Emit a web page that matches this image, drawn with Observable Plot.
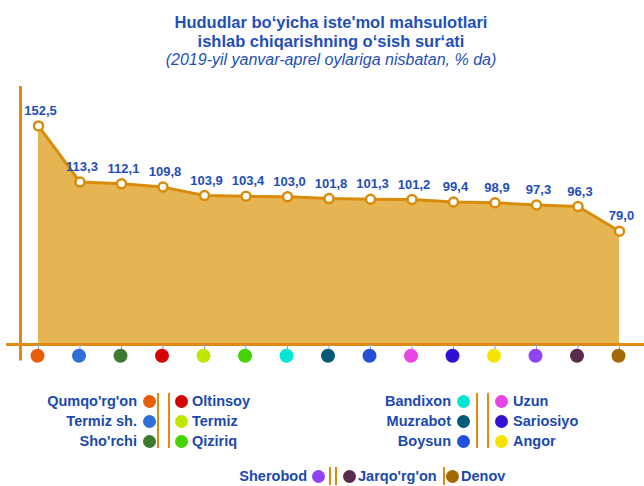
<!DOCTYPE html>
<html>
<head>
<meta charset="utf-8">
<script src="https://cdn.jsdelivr.net/npm/d3@7"></script>
<script src="https://cdn.jsdelivr.net/npm/@observablehq/plot@0.6"></script>
<style>
  html, body { margin: 0; padding: 0; background: #fff; }
  body { width: 644px; height: 486px; position: relative; overflow: hidden; font-family: "Liberation Sans", Arial, sans-serif; }
  .title { position: absolute; left: 0; width: 662px; text-align: center; color: #1f4fb8; font-weight: bold; font-size: 16.5px; }
  .sub { position: absolute; left: 0; width: 662px; text-align: center; color: #1f4fb8; font-style: italic; font-size: 16px; }
  #chart { position: absolute; left: 0; top: 80px; }
  .lg { position: absolute; color: #1a49b0; font-weight: bold; font-size: 14.5px; white-space: nowrap; line-height: 16px; }
  .dot { position: absolute; width: 13px; height: 13px; border-radius: 50%; }
  .bar { position: absolute; width: 2px; background: #e08a10; }
</style>
</head>
<body>
<div class="title" style="top:13px">Hududlar bo‘yicha iste'mol mahsulotlari</div>
<div class="title" style="top:32px">ishlab chiqarishning o‘sish sur‘ati</div>
<div class="sub" style="top:51px">(2019-yil yanvar-aprel oylariga nisbatan, % da)</div>
<div id="chart"></div>
<div id="legend"></div>
<script>
const regions = ["Qumqo'rg'on","Termiz sh.","Sho'rchi","Oltinsoy","Termiz","Qiziriq","Bandixon","Muzrabot","Boysun","Uzun","Sariosiyo","Angor","Sherobod","Jarqo'rg'on","Denov"];
const values = [152.5,113.3,112.1,109.8,103.9,103.4,103.0,101.8,101.3,101.2,99.4,98.9,97.3,96.3,79.0];
const colors = ["#e85e06","#2f6fd8","#3e7b30","#d40404","#bde600","#45d400","#05e6d2","#045a78","#2250d8","#e646e6","#3210d2","#f5e400","#9043f2","#5a2c4c","#a26a04"];

const data = regions.map((r, i) => ({region: r, value: values[i], color: colors[i]}));
const fmt = v => v.toFixed(1).replace(".", ",");
const orange = "#d98b0c";
const axisOrange = "#e08a10";

const chart = Plot.plot({
  width: 644,
  height: 290,
  marginLeft: 38,
  marginRight: 25,
  marginTop: 6,
  marginBottom: 26,
  x: {type: "point", domain: regions, padding: 0, round: false, axis: null},
  y: {domain: [0, 180], axis: null},
  marks: [
    Plot.areaY(data, {x: "region", y1: 0, y2: "value", fill: "#e6b553"}),
    Plot.ruleX([regions[0]], {y1: -11.5, y2: 180, dx: -18, stroke: axisOrange, strokeWidth: 3, clip: false}),
    Plot.ruleY([0], {stroke: axisOrange, strokeWidth: 3, insetLeft: -32, insetRight: -25}),
    Plot.ruleX(data, {x: "region", y1: 0, y2: -5, stroke: "#8ea2c4", strokeWidth: 1}),
    Plot.dot(data, {x: "region", y: -7.8, r: 7, fill: "color", stroke: "none", dx: -1}),
    Plot.line(data, {x: "region", y: "value", stroke: orange, strokeWidth: 3}),
    Plot.dot(data, {x: "region", y: "value", r: 4.5, fill: "white", stroke: orange, strokeWidth: 2.5}),
    Plot.text(data, {x: "region", y: "value", text: d => fmt(d.value), dy: -15, dx: 2, fill: "#1f4db8", fontWeight: "bold", fontSize: 13, fontFamily: "Liberation Sans, Arial, sans-serif"})
  ]
});
document.getElementById("chart").appendChild(chart);

// Legend built from the same arrays
const legend = document.getElementById("legend");
function add(html) { legend.insertAdjacentHTML("beforeend", html); }
function leftItem(i, rightEdge, cx, cy) {
  add(`<div class="lg" style="right:${644 - rightEdge}px;top:${cy - 8}px">${regions[i]}</div>`);
  add(`<div class="dot" style="left:${cx - 6.5}px;top:${cy - 6.5}px;background:${colors[i]}"></div>`);
}
function rightItem(i, leftEdge, cx, cy) {
  add(`<div class="dot" style="left:${cx - 6.5}px;top:${cy - 6.5}px;background:${colors[i]}"></div>`);
  add(`<div class="lg" style="left:${leftEdge}px;top:${cy - 8}px">${regions[i]}</div>`);
}
function bar(x, y1, y2) { add(`<div class="bar" style="left:${x - 1}px;top:${y1}px;height:${y2 - y1}px"></div>`); }

const rows = [401, 421, 441];
// group 1
[0,1,2].forEach((i, k) => leftItem(i, 137, 149, rows[k]));
[3,4,5].forEach((i, k) => rightItem(i, 192, 181, rows[k]));
bar(158, 393, 448); bar(169, 393, 448);
// group 2
[6,7,8].forEach((i, k) => leftItem(i, 451, 463, rows[k]));
[9,10,11].forEach((i, k) => rightItem(i, 513, 501, rows[k]));
bar(477, 393, 448); bar(488, 393, 448);
// bottom row
leftItem(12, 307, 318, 476);
bar(330, 467, 485); bar(336, 467, 485);
rightItem(13, 358, 349, 476);
bar(444, 467, 485);
rightItem(14, 461, 452, 476);
</script>
</body>
</html>
